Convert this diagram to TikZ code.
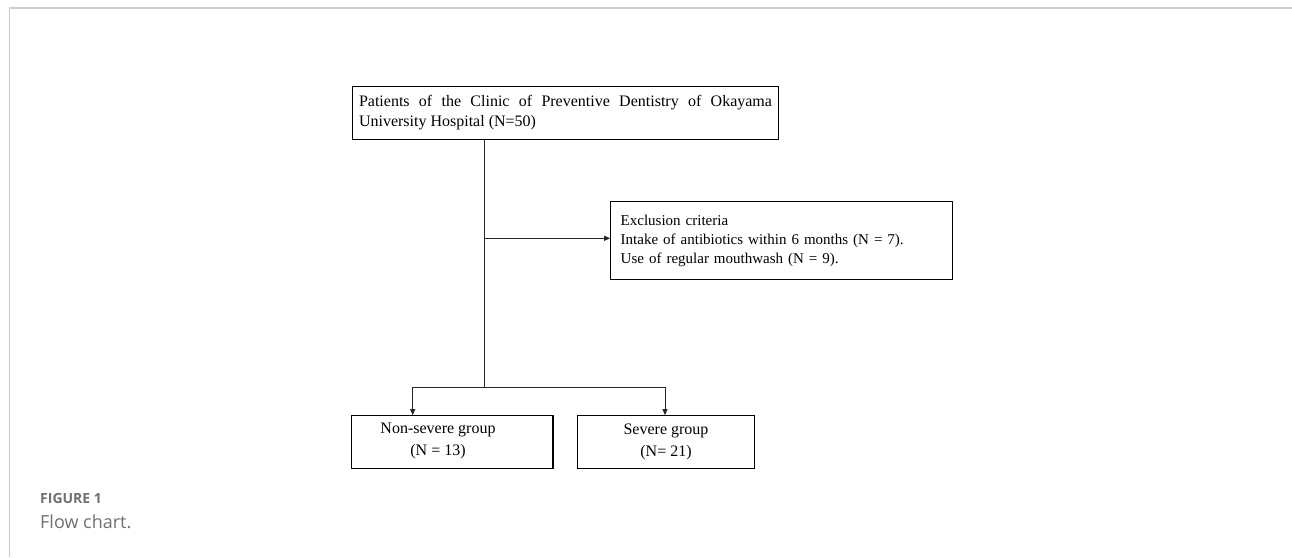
\documentclass[tikz,border=0pt]{standalone}
\usepackage{fontspec}
\setmainfont{Liberation Serif}
\newfontfamily\capfont{Open Sans}
\usetikzlibrary{arrows.meta}
\definecolor{framegray}{HTML}{CFCFCF}
\definecolor{capgray}{HTML}{707070}
\begin{document}
\begin{tikzpicture}[x=1pt,y=-1pt,
  box/.style={draw=black,line width=1.1pt,rectangle,inner sep=0pt,font=\fontsize{16}{20}\selectfont},
  conn/.style={draw=black!85,line width=0.8pt},
  arr/.style={conn,-{Triangle[length=6pt,width=5pt]}}]
\useasboundingbox (0,0) rectangle (1292,557);
% page frame
\draw[framegray,line width=2pt] (8.5,7.5) -- (1292,7.5);
\draw[framegray!80!black!60,line width=0.9pt] (9,7.5) -- (9,557);
% boxes
\node[box,minimum width=425.5pt,minimum height=53pt,text width=413pt,align=justify] (top) at (565.5,113)
  {\hyphenpenalty=10000 Patients of the Clinic of Preventive Dentistry of Okayama\linebreak University Hospital (N=50)};
\node[box,minimum width=342pt,minimum height=77.6pt,text width=322pt,align=left,font=\fontsize{15}{19}\selectfont] (excl) at (781.7,240.5)
  {Exclusion criteria\\Intake of antibiotics within 6 months (N = 7).\\Use of regular mouthwash (N = 9).};
\node[box,minimum width=201.3pt,minimum height=52.6pt] (ns) at (452.3,442) {};
\node[font=\fontsize{16}{22}\selectfont,align=center,inner sep=0pt] (nstext) at (438,441)
  {Non-severe group\\(N = 13)};
\node[box,minimum width=176.5pt,minimum height=52.6pt,align=center,font=\fontsize{16}{22}\selectfont] (sev) at (666,442)
  {Severe group\\(N= 21)};
% connectors
\coordinate (j1) at (484,238.3);
\coordinate (j2) at (484,387.3);
\coordinate (b1) at (412.7,387.3);
\coordinate (b2) at (665,387.3);
\draw[conn] (top.south -| j1) -- (j2);
\draw[arr] (j1) -- (j1 -| excl.west);
\draw[conn] (b1) -- (b2);
\draw[arr] (b1) -- (b1 |- ns.north);
\draw[arr] (b2) -- (b2 |- sev.north);
% caption
\node[anchor=base west,inner sep=0pt,text=capgray,font=\capfont\bfseries\fontsize{14}{16}\selectfont] (figlabel) at (40,503) {FIGURE 1};
\node[anchor=base west,inner sep=0pt,text=capgray,font=\capfont\fontsize{18}{21}\selectfont] (figcap) at (40,528) {Flow chart.};
\end{tikzpicture}
\end{document}
